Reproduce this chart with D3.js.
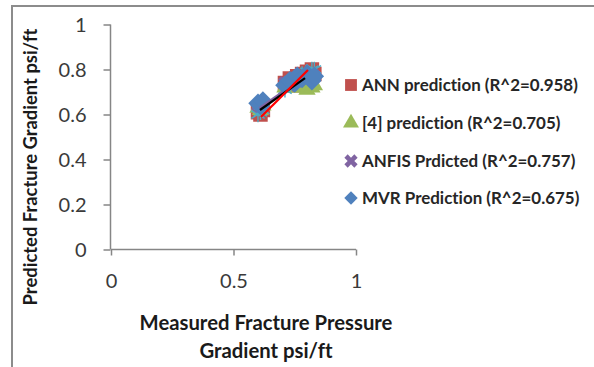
<!DOCTYPE html>
<html><head><meta charset="utf-8">
<script src="https://cdnjs.cloudflare.com/ajax/libs/d3/7.8.5/d3.min.js"></script>
<style>
html,body{margin:0;padding:0;background:#fff;}
svg{display:block;}
text{font-family:Lato,"Open Sans",sans-serif;font-variant-ligatures:none;}
</style></head>
<body><svg id="c" width="594" height="367"></svg>
<script>
// ---- data ----
const xTicks = [0, 0.5, 1];
const yTicks = [0, 0.2, 0.4, 0.6, 0.8, 1];
const xTickLabels = ["0", "0.5", "1"];
const yTickLabels = ["0", "0.2", "0.4", "0.6", "0.8", "1"];
const measured  = [0.60, 0.61, 0.62, 0.71, 0.73, 0.75, 0.76, 0.78, 0.80, 0.82, 0.83];
const annPred   = [0.61, 0.60, 0.62, 0.74, 0.76, 0.73, 0.77, 0.78, 0.79, 0.80, 0.78];
const ref4Pred  = [0.63, 0.62, 0.64, 0.72, 0.73, 0.72, 0.74, 0.72, 0.71, 0.72, 0.73];
const anfisPred = [0.64, 0.63, 0.65, 0.74, 0.73, 0.76, 0.75, 0.77, 0.76, 0.78, 0.77];
const mvrPred   = [0.65, 0.64, 0.66, 0.73, 0.75, 0.74, 0.77, 0.76, 0.78, 0.75, 0.77];
const measPts   = [0.60, 0.61, 0.62, 0.71, 0.73, 0.75, 0.76, 0.78, 0.79, 0.80, 0.80];
const trendRedX = [0.612, 0.804], trendRedY = [0.589, 0.798];
const trendBlkX = [0.608, 0.792], trendBlkY = [0.620, 0.762];
const trendPurX = [0.606, 0.700], trendPurY = [0.628, 0.700];
const legendLabels = ["ANN prediction (R^2=0.958)", "[4] prediction (R^2=0.705)",
                      "ANFIS Prdicted (R^2=0.757)", "MVR Prediction (R^2=0.675)"];
const xTitle = ["Measured Fracture Pressure", "Gradient psi/ft"];
const yTitle = "Predicted Fracture Gradient psi/ft";

const C = {red:"#C0504D", green:"#9BBB59", purple:"#8064A2", blue:"#4F81BD", aqua:"#4BACC6"};

const svg = d3.select("#c");
svg.append("path").attr("d","M12,367 V6 H594").attr("fill","none").attr("stroke","#8c8c8c").attr("stroke-width",2);

const x = d3.scaleLinear().domain([0,1]).range([111,356]);
const y = d3.scaleLinear().domain([0,1]).range([249.5,24.5]);

const axisCol = "#868686";
const gx = svg.append("g").attr("transform","translate(0,249.5)")
  .call(d3.axisBottom(x).tickValues(xTicks).tickSize(6).tickFormat((d,i)=>xTickLabels[i]));
const gy = svg.append("g").attr("transform","translate(110.5,0)")
  .call(d3.axisLeft(y).tickValues(yTicks).tickSize(7).tickFormat((d,i)=>yTickLabels[i]));
[gx,gy].forEach(g=>{
  g.select(".domain").attr("stroke",axisCol).attr("stroke-width",1.5);
  g.selectAll(".tick line").attr("stroke",axisCol).attr("stroke-width",1.5);
  g.selectAll(".tick text").attr("fill","#3a3a3a").style("font-size","20px").style("font-family","Lato, sans-serif");
});
gx.selectAll(".tick text").attr("y",24);
gy.selectAll(".tick text").attr("x",-24).attr("dy","0.35em");
gx.select(".domain").attr("d","M"+x(0)+",0H"+x(1));
gy.select(".domain").attr("d","M0,"+y(0)+"V"+y(1));

// markers
const plot = svg.append("g");
function sym(type,size){ return d3.symbol().type(type).size(size)(); }
plot.append("g").selectAll("path").data(annPred).join("path")
  .attr("transform",(d,i)=>`translate(${x(measured[i])},${y(d)})`)
  .attr("d",sym(d3.symbolSquare,210)).attr("fill",C.red);
plot.append("g").selectAll("path").data(ref4Pred).join("path")
  .attr("transform",(d,i)=>`translate(${x(measured[i])},${y(d)})`)
  .attr("d",sym(d3.symbolTriangle,130)).attr("fill",C.green);
plot.append("g").selectAll("path").data(anfisPred).join("path")
  .attr("transform",(d,i)=>`translate(${x(measured[i])},${y(d)}) rotate(45)`)
  .attr("d",sym(d3.symbolCross,120)).attr("fill",C.purple);
plot.append("g").selectAll("path").data(measPts).join("path")
  .attr("transform",(d,i)=>`translate(${x(measured[i])},${y(d)})`)
  .attr("d",sym(d3.symbolAsterisk,170)).attr("fill","none").attr("stroke",C.aqua).attr("stroke-width",1.4);
plot.append("g").selectAll("path").data(mvrPred).join("path")
  .attr("transform",(d,i)=>`translate(${x(measured[i])},${y(d)}) rotate(45)`)
  .attr("d",sym(d3.symbolSquare,190)).attr("fill",C.blue);

// trendlines
const line = d3.line().x(d=>x(d[0])).y(d=>y(d[1]));
plot.append("path").attr("d",line(d3.zip(trendPurX,trendPurY))).attr("stroke",C.purple).attr("stroke-width",2.5).attr("fill","none");
plot.append("path").attr("d",line(d3.zip(trendBlkX,trendBlkY))).attr("stroke","#000").attr("stroke-width",2.2).attr("fill","none");
plot.append("path").attr("d",line(d3.zip(trendRedX,trendRedY))).attr("stroke","#ff0000").attr("stroke-width",2.2).attr("fill","none");

function fit(t, target){
  const w = t.node().getComputedTextLength();
  const fs = parseFloat(t.style("font-size"));
  t.style("font-size", (fs*target/w).toFixed(2)+"px");
  return (fs*target/w);
}

// legend
const legY = [85, 123, 161, 198];
const leg = svg.append("g");
const legSyms = [
  g=>g.append("path").attr("d",sym(d3.symbolSquare,140)).attr("fill",C.red),
  g=>g.append("path").attr("d",sym(d3.symbolTriangle,110)).attr("fill",C.green),
  g=>g.append("path").attr("d",sym(d3.symbolCross,110)).attr("transform","rotate(45)").attr("fill",C.purple),
  g=>g.append("path").attr("d",sym(d3.symbolSquare,90)).attr("transform","rotate(45)").attr("fill",C.blue)
];
let legFs = null;
legendLabels.forEach((lab,i)=>{
  const g = leg.append("g").attr("transform",`translate(351,${legY[i]})`);
  legSyms[i](g);
  const t = g.append("text").attr("x",11).attr("dy","0.36em").attr("fill","#262626")
    .style("font-weight","bold").style("font-size",(legFs||14)+"px").text(lab);
  if (i===0) legFs = fit(t, 216);
});

// axis titles
const xt1 = svg.append("text").attr("x",266).attr("y",330).attr("text-anchor","middle")
  .attr("fill","#1a1a1a").style("font-weight","bold").style("font-size","19px").text(xTitle[0]);
fit(xt1, 253);
const fsx = xt1.style("font-size");
svg.append("text").attr("x",266).attr("y",358).attr("text-anchor","middle")
  .attr("fill","#1a1a1a").style("font-weight","bold").style("font-size",fsx).text(xTitle[1]);
const yt = svg.append("text").attr("transform","translate(37,167) rotate(-90)").attr("text-anchor","middle")
  .attr("fill","#1a1a1a").style("font-weight","bold").style("font-size","15px").text(yTitle);
fit(yt, 277);
</script></body></html>
